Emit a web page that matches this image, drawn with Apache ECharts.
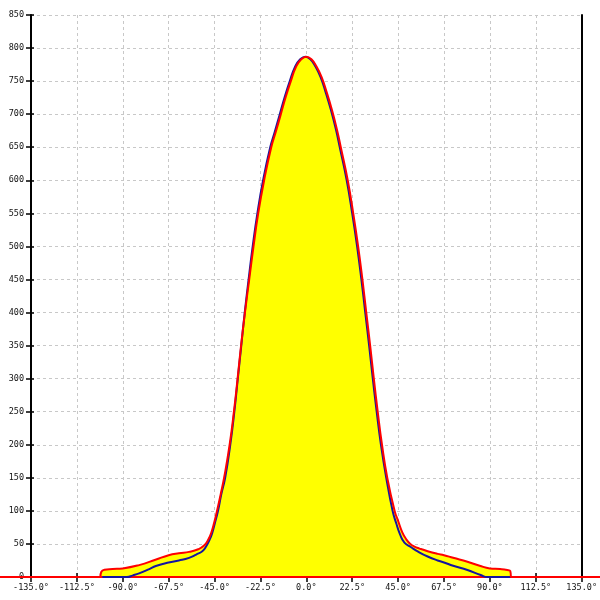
<!DOCTYPE html>
<html>
<head>
<meta charset="utf-8">
<script src="https://cdn.jsdelivr.net/npm/echarts@6/dist/echarts.min.js"></script>
<style>html,body{margin:0;padding:0;background:#fff}#c{width:600px;height:600px}</style>
</head>
<body>
<div id="c"></div>
<script>
// Angle (deg) and intensity values
const redAngles = [-101,-100.5,-99,-95,-90,-82,-74,-67.5,-62.5,-57.5,-53,-50,-48,-46.5,-45.2,-43.8,-42,-40.2,-37.6,-35.5,-33.7,-32,-30.1,-28,-25.9,-23.6,-20.7,-17.2,-15,-12.5,-10,-7.6,-5,-2.5,0,2.5,5,7.5,10,12.5,15,16.9,20.3,23.0,25.4,27.5,29.4,31.3,33.1,35.0,37.1,39.7,43.3,45,47,49,51,53,55.5,59.5,64.4,67.5,72,79,85,90,95,98.5,100,100.3];
const redValues = [0,8,11,12,13,18,26,33,36,38,42,48,57,68,82,100,125,152,200,250,300,350,400,450,500,550,600,650,673,700,727,750,772,783,787,783,772,756,733,707,677,650,600,550,500,450,400,350,300,250,200,150,100,85,68,57,50,46,43,39,35,33,29,23,17,13,12,10.6,9,0];

const blueAngles = [-100,-88,-85,-82,-77,-73.8,-67.5,-62.5,-57.5,-54,-51,-49,-47.5,-46.2,-44.8,-43.3,-41.7,-39.8,-37.3,-35.3,-33.6,-31.9,-30.2,-28.3,-26.3,-24.0,-21.2,-17.7,-15.5,-13.0,-10.5,-8.1,-5.5,-3.0,-0.5,2.0,4.5,7.0,9.5,12.0,14.5,16.4,19.8,22.5,24.9,27.0,28.9,30.8,32.6,34.5,36.6,39.2,42.3,44,46,48.1,51.4,55,59.5,64.4,67.5,72,79,85.5,88.8,100];
const blueValues = [0,0,2.5,5.5,12,16.6,22,25,29,34,39,47,56,66,82,100,125,150,200,250,300,350,400,450,500,550,600,650,673,700,727,750,772,783,787,783,772,756,733,707,677,650,600,550,500,450,400,350,300,250,200,150,100,82,64,52,45,38,31,25,22,17,10.6,3,0,0];

// flat zero baseline of the red trace, which runs across the full width
const baseAngles = [-150, 150];
const baseValues = [0, 0];

const yTicks = {min: 0, max: 850, interval: 50};
const xTicks = {min: -135, max: 135, interval: 22.5};

const redData = redAngles.map((a, i) => [a, redValues[i]]);
const blueData = blueAngles.map((a, i) => [a, blueValues[i]]);
const baseData = baseAngles.map((a, i) => [a, baseValues[i]]);

const font = 'DejaVu Sans Mono';
const gridLine = {show: true, lineStyle: {color: '#c8c8c8', type: [3, 3], width: 1}};
const chart = echarts.init(document.getElementById('c'), null, {renderer: 'canvas'});
chart.setOption({
  animation: false,
  backgroundColor: '#fff',
  grid: [
    {left: 31, right: 15, top: 15, bottom: 23, containLabel: false},
    {left: 0, right: 0, top: 15, bottom: 23, containLabel: false}
  ],
  xAxis: [
    {type: 'value', gridIndex: 0, min: xTicks.min, max: xTicks.max, interval: xTicks.interval, position: 'bottom',
     axisLine: {show: true, onZero: false, lineStyle: {color: '#000', width: 2}},
     axisTick: {show: true, inside: false, length: 5, lineStyle: {color: '#000', width: 1.5}},
     axisLabel: {show: true, margin: 6, color: '#111', fontFamily: font, fontSize: 8.5,
       formatter: v => v.toFixed(1) + '°'},
     splitLine: gridLine},
    {type: 'value', gridIndex: 0, min: xTicks.min, max: xTicks.max, interval: xTicks.interval, position: 'bottom',
     axisLine: {show: false, onZero: false},
     axisTick: {show: true, inside: true, length: 4, lineStyle: {color: '#000', width: 1.5}},
     axisLabel: {show: false}, splitLine: {show: false}},
    {type: 'value', gridIndex: 1, min: -150, max: 150, show: false}
  ],
  yAxis: [
    {type: 'value', gridIndex: 0, min: yTicks.min, max: yTicks.max, interval: yTicks.interval, position: 'left',
     axisLine: {show: true, onZero: false, lineStyle: {color: '#000', width: 2}},
     axisTick: {show: true, inside: false, length: 5, lineStyle: {color: '#000', width: 1.5}},
     axisLabel: {show: true, margin: 7, color: '#111', fontFamily: font, fontSize: 8.5},
     splitLine: gridLine},
    {type: 'value', gridIndex: 0, min: yTicks.min, max: yTicks.max, interval: yTicks.interval, position: 'left',
     axisLine: {show: false, onZero: false},
     axisTick: {show: true, inside: true, length: 3, lineStyle: {color: '#000', width: 1.5}},
     axisLabel: {show: false}, splitLine: {show: false}},
    {type: 'value', gridIndex: 0, min: yTicks.min, max: yTicks.max, interval: yTicks.interval, position: 'right',
     axisLine: {show: true, onZero: false, lineStyle: {color: '#000', width: 2}},
     axisTick: {show: false}, axisLabel: {show: false}, splitLine: {show: false}},
    {type: 'value', gridIndex: 1, min: yTicks.min, max: yTicks.max, show: false}
  ],
  series: [
    {type: 'line', name: 'fill', data: redData, xAxisIndex: 0, yAxisIndex: 0,
     showSymbol: false, smooth: 0.5,
     lineStyle: {width: 0, opacity: 0},
     areaStyle: {color: '#ffff00', opacity: 1}, z: 2, silent: true},
    {type: 'line', name: 'blue', data: blueData, xAxisIndex: 0, yAxisIndex: 0,
     showSymbol: false, smooth: 0.5,
     lineStyle: {color: '#1414a0', width: 2}, z: 3},
    {type: 'line', name: 'baseline', data: baseData, xAxisIndex: 2, yAxisIndex: 3,
     showSymbol: false, lineStyle: {color: '#ff0000', width: 2}, z: 2.5},
    {type: 'line', name: 'red', data: redData, xAxisIndex: 0, yAxisIndex: 0,
     showSymbol: false, smooth: 0.5,
     lineStyle: {color: '#ff0000', width: 2}, z: 4}
  ]
});
</script>
</body>
</html>
